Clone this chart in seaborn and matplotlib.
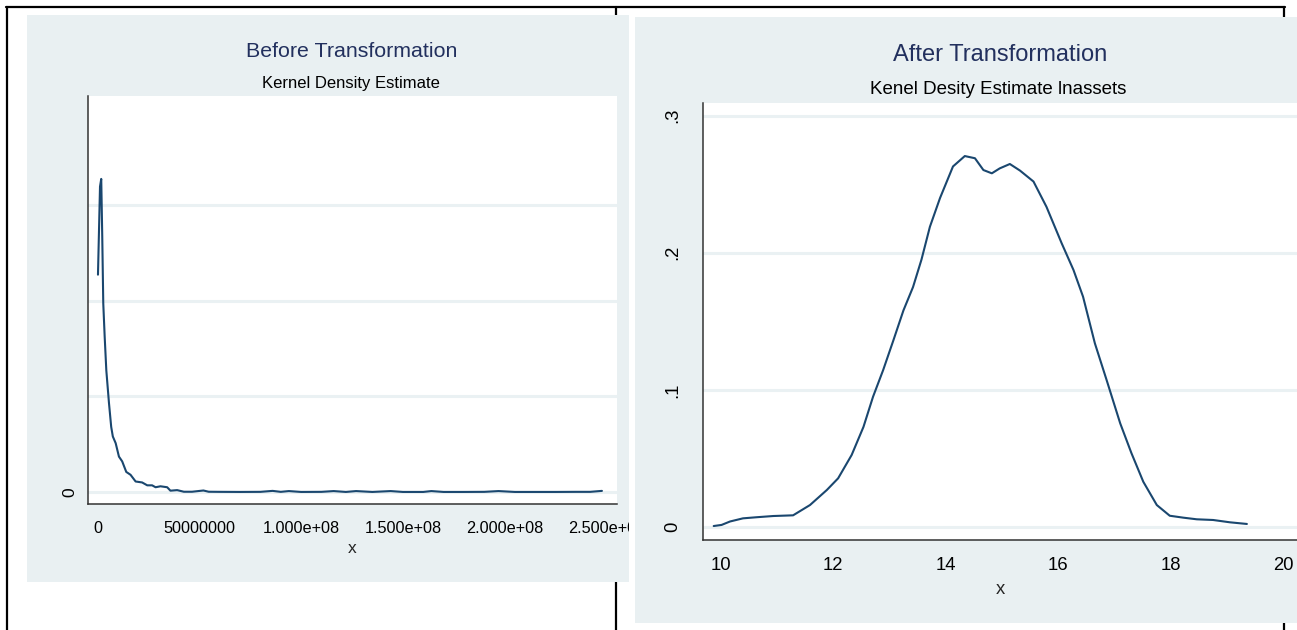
import numpy as np
import pandas as pd
import seaborn as sns
import matplotlib
matplotlib.use("Agg")
import matplotlib.pyplot as plt
from matplotlib.lines import Line2D
from matplotlib.transforms import Bbox, TransformedBbox

# ---------------- data ----------------
# Before transformation: kernel density of assets (x raw units, density in 1e-8 units)
before_x = [0.2e6, 1.2e6, 1.8e6, 2.3e6, 2.8e6, 3.5e6, 4.3e6, 5.6e6, 6.7e6, 7.5e6, 8.9e6,
            10.5e6, 12.1e6, 14.1e6, 16.2e6, 18.7e6, 21.9e6, 24.4e6, 26.8e6, 28.5e6, 30.9e6,
            34.2e6, 35.8e6, 39.1e6, 42.4e6, 46.4e6, 52.0e6, 54.6e6, 60e6, 70e6, 80e6,
            86e6, 90e6, 94e6, 100e6, 110e6, 116e6, 122e6, 127e6, 135e6, 144e6, 150e6,
            160e6, 164e6, 170e6, 180e6, 190e6, 197e6, 205e6, 215e6, 225e6, 235e6, 242e6, 247.8e6]
before_y = [2.27, 3.19, 3.27, 2.67, 1.97, 1.62, 1.27, 0.93, 0.68, 0.58, 0.51,
            0.37, 0.32, 0.21, 0.18, 0.11, 0.10, 0.07, 0.07, 0.05, 0.06,
            0.05, 0.014, 0.02, 0.003, 0.003, 0.016, 0.003, 0.002, 0.001, 0.002,
            0.012, 0.002, 0.010, 0.001, 0.002, 0.010, 0.001, 0.010, 0.001, 0.010, 0.001,
            0.001, 0.010, 0.001, 0.001, 0.002, 0.010, 0.001, 0.001, 0.001, 0.002, 0.002, 0.012]

# After transformation: kernel density of lnassets
after_x = [9.88, 10.02, 10.17, 10.40, 10.64, 10.94, 11.29, 11.59, 11.89, 12.09, 12.33,
           12.54, 12.71, 12.89, 13.07, 13.25, 13.42, 13.57, 13.72, 13.90, 14.13, 14.34,
           14.52, 14.67, 14.82, 14.96, 15.14, 15.32, 15.56, 15.79, 16.06, 16.27, 16.44,
           16.65, 16.86, 17.10, 17.30, 17.51, 17.75, 17.98, 18.22, 18.46, 18.75, 19.05, 19.35]
after_y = [0.0007, 0.0015, 0.004, 0.0063, 0.0071, 0.008, 0.0085, 0.016, 0.027, 0.0355, 0.0525,
           0.073, 0.095, 0.1145, 0.136, 0.158, 0.175, 0.195, 0.219, 0.240, 0.263, 0.2706,
           0.269, 0.2604, 0.258, 0.2616, 0.2648, 0.260, 0.252, 0.2336, 0.207, 0.1875, 0.168,
           0.134, 0.107, 0.0756, 0.0538, 0.033, 0.016, 0.0082, 0.0068, 0.0056, 0.0051, 0.0034, 0.0022]

before_xticks = [0, 50e6, 100e6, 150e6, 200e6, 250e6]
before_xticklabels = ["0", "50000000", "1.000e+08", "1.500e+08", "2.000e+08", "2.500e+08"]
before_yticks = [0, 1, 2, 3, 4]
before_yticklabels = ["0", "", "", "", ""]

after_xticks = [10, 12, 14, 16, 18, 20]
after_xticklabels = ["10", "12", "14", "16", "18", "20"]
after_yticks = [0, 0.1, 0.2, 0.3]
after_yticklabels = ["0", ".1", ".2", ".3"]

titles = ["Before Transformation", "After Transformation"]
subtitles = ["Kernel Density Estimate", "Kenel Desity Estimate lnassets"]

# ---------------- style ----------------
sns.set_theme(style="white")
FONT = ["Liberation Sans Narrow", "Liberation Sans", "DejaVu Sans"]
plt.rcParams["font.family"] = FONT

W, H = 1297, 630
BG = "#E9F0F2"
GRID = "#EAF1F3"
LINE = "#1A476F"
TITLE_C = "#22305E"
AX_C = "#333333"

fig = plt.figure(figsize=(W / 100, H / 100), dpi=100)
fig.patch.set_facecolor("white")


def rect(x0, y0, x1, y1):
    return [x0 / W, 1 - y1 / H, (x1 - x0) / W, (y1 - y0) / H]


# table border lines behind the panels
for xs, ys in [([6, 1285], [7, 7]), ([7, 7], [7, 630]), ([616, 616], [7, 630]),
               ([1284, 1284], [7, 630])]:
    fig.add_artist(Line2D([x / W for x in xs], [1 - y / H for y in ys], color="black",
                          lw=1.6, zorder=-5, transform=fig.transFigure))

# panel backgrounds
for r in [rect(27, 15, 629, 582), rect(635, 17, 1297, 623)]:
    bg = fig.add_axes(r, zorder=0)
    bg.set_facecolor(BG)
    bg.set_xticks([])
    bg.set_yticks([])
    for s in bg.spines.values():
        s.set_visible(False)


def style_axes(ax, lsize):
    ax.set_facecolor("white")
    for s in ["top", "right"]:
        ax.spines[s].set_visible(False)
    for s in ["left", "bottom"]:
        ax.spines[s].set_color(AX_C)
        ax.spines[s].set_linewidth(1.1)
    ax.tick_params(axis="both", which="major", direction="out", length=5, width=1,
                   color=AX_C, labelcolor="black", labelsize=lsize)
    ax.yaxis.grid(True, color=GRID, lw=2.2)
    ax.xaxis.grid(False)
    ax.set_axisbelow(True)


# ---------------- left panel ----------------
axL = fig.add_axes(rect(88, 96, 617, 504), zorder=1)
style_axes(axL, 11.7)
sns.lineplot(x=before_x, y=before_y, ax=axL, color=LINE, lw=1.5, sort=False)
axL.set_xlim(-4.7e6, 255.2e6)
axL.set_ylim(-0.125, 4.136)
axL.set_xticks(before_xticks)
axL.set_xticklabels(before_xticklabels)
axL.set_yticks(before_yticks)
axL.set_yticklabels(before_yticklabels, rotation=90, va="center")
axL.tick_params(axis="y", pad=3, labelsize=12.5)
axL.tick_params(axis="x", pad=7)
axL.get_ygridlines()[-1].set_visible(False)
axL.set_xlabel("x", fontsize=12.5, labelpad=4)
axL.set_ylabel("")
clip = TransformedBbox(Bbox([[27 / W, 0], [629 / W, 1]]), fig.transFigure)
for t in axL.get_xticklabels():
    t.set_clip_on(True)
    t.set_clip_box(clip)

# ---------------- right panel ----------------
axR = fig.add_axes(rect(703, 103, 1297, 540), zorder=1)
style_axes(axR, 13.3)
sns.lineplot(x=after_x, y=after_y, ax=axR, color=LINE, lw=1.5, sort=False)
axR.set_xlim(9.69, 20.24)
axR.set_ylim(-0.0095, 0.3093)
axR.set_xticks(after_xticks)
axR.set_xticklabels(after_xticklabels)
axR.set_yticks(after_yticks)
axR.set_yticklabels(after_yticklabels, rotation=90, va="center")
axR.tick_params(axis="y", pad=11)
axR.tick_params(axis="x", pad=7)
axR.set_xlabel("x", fontsize=13.3, labelpad=5)
axR.set_ylabel("")

# ---------------- titles ----------------
fig.text(352 / W, 1 - 57 / H, titles[0], ha="center", va="baseline", fontsize=15.4,
         color=TITLE_C)
fig.text(351 / W, 1 - 88 / H, subtitles[0], ha="center", va="baseline", fontsize=12,
         color="black")
fig.text(1000 / W, 1 - 61 / H, titles[1], ha="center", va="baseline", fontsize=17,
         color=TITLE_C)
fig.text(998 / W, 1 - 94 / H, subtitles[1], ha="center", va="baseline", fontsize=13.5,
         color="black")

fig.savefig("out.png", dpi=100)
